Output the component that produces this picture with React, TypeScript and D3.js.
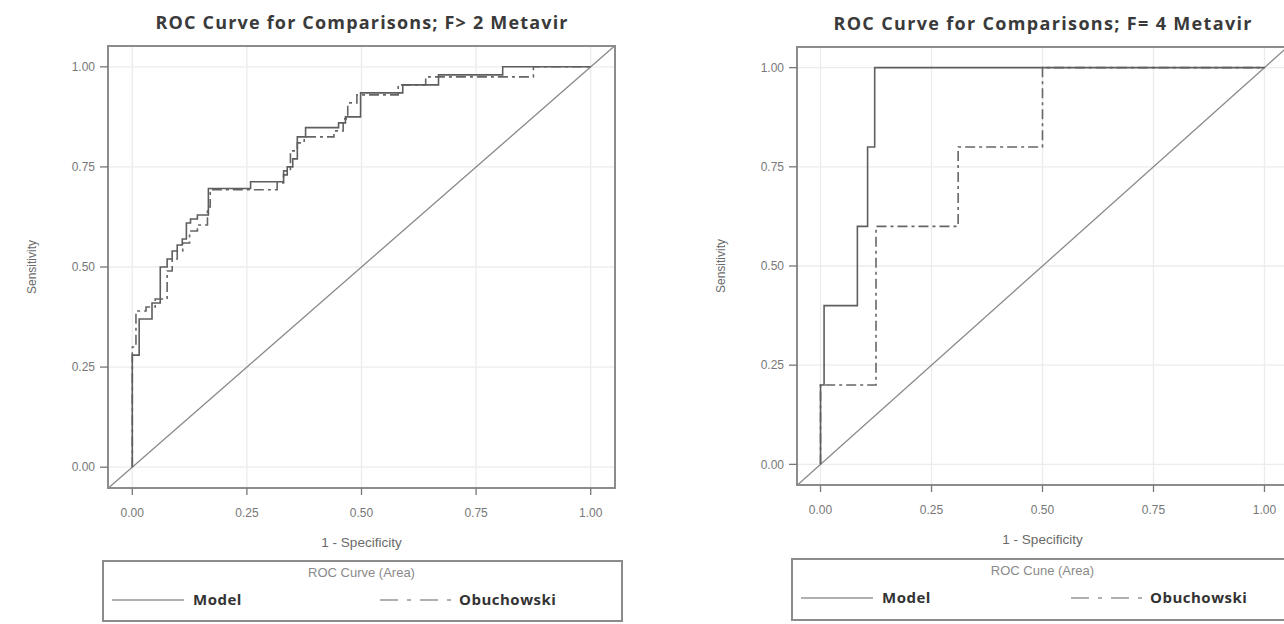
import React from 'react';
import * as d3 from 'd3';

// ROC points (1 - specificity, sensitivity), drawn as steps
const leftModel: [number, number][] = [
  [0, 0], [0, 0.28], [0.015, 0.37], [0.043, 0.41], [0.061, 0.5], [0.076, 0.52],
  [0.087, 0.54], [0.098, 0.555], [0.109, 0.57], [0.118, 0.61], [0.127, 0.62],
  [0.142, 0.63], [0.166, 0.696], [0.258, 0.713], [0.33, 0.73], [0.338, 0.75],
  [0.35, 0.77], [0.36, 0.825], [0.378, 0.848], [0.45, 0.86], [0.465, 0.875],
  [0.498, 0.935], [0.59, 0.955], [0.668, 0.98], [0.808, 1], [1, 1],
];
const leftObu: [number, number][] = [
  [0, 0], [0, 0.3], [0.008, 0.39], [0.03, 0.4], [0.05, 0.42], [0.076, 0.49],
  [0.087, 0.52], [0.098, 0.54], [0.11, 0.56], [0.125, 0.59], [0.142, 0.605],
  [0.164, 0.65], [0.17, 0.693], [0.316, 0.71], [0.33, 0.74], [0.345, 0.79],
  [0.36, 0.81], [0.375, 0.825], [0.44, 0.84], [0.46, 0.87], [0.47, 0.91],
  [0.49, 0.93], [0.58, 0.955], [0.64, 0.975], [0.875, 1], [1, 1],
];
const rightModel: [number, number][] = [
  [0, 0], [0, 0.2], [0.008, 0.4], [0.083, 0.6], [0.106, 0.8], [0.122, 1], [1, 1],
];
const rightObu: [number, number][] = [
  [0, 0], [0, 0.2], [0.125, 0.6], [0.31, 0.8], [0.5, 1], [1, 1],
];

const ticks = [0, 0.25, 0.5, 0.75, 1];
const titles = ['ROC Curve for Comparisons; F> 2 Metavir', 'ROC Curve for Comparisons; F= 4 Metavir'];
const legendTitles = ['ROC Curve (Area)', 'ROC Cune (Area)'];
const seriesNames = ['Model', 'Obuchowski'];

const DASHDOT = '10 4 3 4';
const FONT = 'Liberation Sans, Arial, sans-serif';

type PanelProps = {
  id: string;
  left: number; right: number; top: number; bottom: number;
  title: string; titleWidth: number;
  model: [number, number][]; obu: [number, number][];
  legendTitle: string;
  legendLeft: number; legendRight: number; legendTop: number; legendBottom: number;
  obuLineX: number;
};

function Panel(p: PanelProps) {
  const x = d3.scaleLinear().domain([-0.053, 1.053]).range([p.left, p.right]);
  const y = d3.scaleLinear().domain([-0.052, 1.052]).range([p.bottom, p.top]);
  const line = d3.line<[number, number]>().x(d => x(d[0])).y(d => y(d[1])).curve(d3.curveStepAfter);
  const cx = (p.left + p.right) / 2;
  const cy = (p.top + p.bottom) / 2;
  const legY = p.legendTop + 39;
  return (
    <g>
      <defs>
        <clipPath id={`clip-${p.id}`}>
          <rect x={p.left} y={p.top} width={p.right - p.left} height={p.bottom - p.top} />
        </clipPath>
      </defs>
      <text x={cx} y={p.top - 17} textAnchor="middle" fontFamily="Open Sans, sans-serif" fontWeight={700}
        fontSize={18} fill="#3a3a3a" textLength={p.titleWidth} lengthAdjust="spacing">{p.title}</text>

      {/* grid */}
      {ticks.map(t => (
        <g key={t}>
          <line x1={x(t)} x2={x(t)} y1={p.top} y2={p.bottom} stroke="#ececec" strokeWidth={1.3} />
          <line x1={p.left} x2={p.right} y1={y(t)} y2={y(t)} stroke="#ececec" strokeWidth={1.3} />
        </g>
      ))}

      <g clipPath={`url(#clip-${p.id})`}>
        <line x1={x(-0.053)} y1={y(-0.053)} x2={x(1.053)} y2={y(1.053)} stroke="#8a8a8a" strokeWidth={1.3} />
        <path d={line(p.obu) || ''} fill="none" stroke="#666" strokeWidth={1.6} strokeDasharray={DASHDOT} />
        <path d={line(p.model) || ''} fill="none" stroke="#5e5e5e" strokeWidth={1.6} />
      </g>

      <rect x={p.left} y={p.top} width={p.right - p.left} height={p.bottom - p.top} fill="none" stroke="#8c8c8c" strokeWidth={2} />

      {/* axes ticks */}
      {ticks.map(t => (
        <g key={'t' + t} fontFamily={FONT} fontSize={12} fill="#777">
          <line x1={x(t)} x2={x(t)} y1={p.bottom} y2={p.bottom + 7} stroke="#777" strokeWidth={1.3} />
          <text x={x(t)} y={p.bottom + 29} textAnchor="middle">{d3.format('.2f')(t)}</text>
          <line x1={p.left - 8} x2={p.left} y1={y(t)} y2={y(t)} stroke="#777" strokeWidth={1.3} />
          <text x={p.left - 13} y={y(t)} dy="0.35em" textAnchor="end">{d3.format('.2f')(t)}</text>
        </g>
      ))}
      <text x={cx} y={p.bottom + 59} textAnchor="middle" fontFamily={FONT} fontSize={13.5} fill="#6a6a6a">1 - Specificity</text>
      <text x={p.left - 72} y={cy} textAnchor="middle" fontFamily={FONT} fontSize={12} fill="#6a6a6a"
        transform={`rotate(-90, ${p.left - 72}, ${cy})`}>Sensitivity</text>

      {/* legend */}
      <rect x={p.legendLeft} y={p.legendTop} width={p.legendRight - p.legendLeft} height={p.legendBottom - p.legendTop}
        fill="none" stroke="#8c8c8c" strokeWidth={2} />
      <text x={cx} y={p.legendTop + 16} textAnchor="middle" fontFamily={FONT} fontSize={13} fill="#8a8a8a">{p.legendTitle}</text>
      <line x1={p.legendLeft + 9} x2={p.legendLeft + 81} y1={legY} y2={legY} stroke="#b0b0b0" strokeWidth={2.2} />
      <text x={p.legendLeft + 90} y={legY} dy="0.35em" fontFamily="Open Sans, sans-serif" fontWeight={700} fontSize={15} fill="#333" letterSpacing={0.5}>{seriesNames[0]}</text>
      <line x1={p.obuLineX} x2={p.obuLineX + 71} y1={legY} y2={legY} stroke="#b0b0b0" strokeWidth={2} strokeDasharray="18 9 4 9" />
      <text x={p.obuLineX + 79} y={legY} dy="0.35em" fontFamily="Open Sans, sans-serif" fontWeight={700} fontSize={15} fill="#333" letterSpacing={0.5}>{seriesNames[1]}</text>
    </g>
  );
}

export default function App() {
  return (
    <svg width={1284} height={624} style={{ position: 'absolute', left: 0, top: 0, background: '#fff' }}>
      <rect width={1284} height={624} fill="#fff" />
      <Panel id="a" left={108} right={615} top={46} bottom={488}
        title={titles[0]} titleWidth={412}
        model={leftModel} obu={leftObu} legendTitle={legendTitles[0]}
        legendLeft={103} legendRight={622} legendTop={561} legendBottom={621} obuLineX={380} />
      <Panel id="b" left={797} right={1288} top={47} bottom={485}
        title={titles[1]} titleWidth={418}
        model={rightModel} obu={rightObu} legendTitle={legendTitles[1]}
        legendLeft={792} legendRight={1292} legendTop={559} legendBottom={620} obuLineX={1071} />
    </svg>
  );
}
